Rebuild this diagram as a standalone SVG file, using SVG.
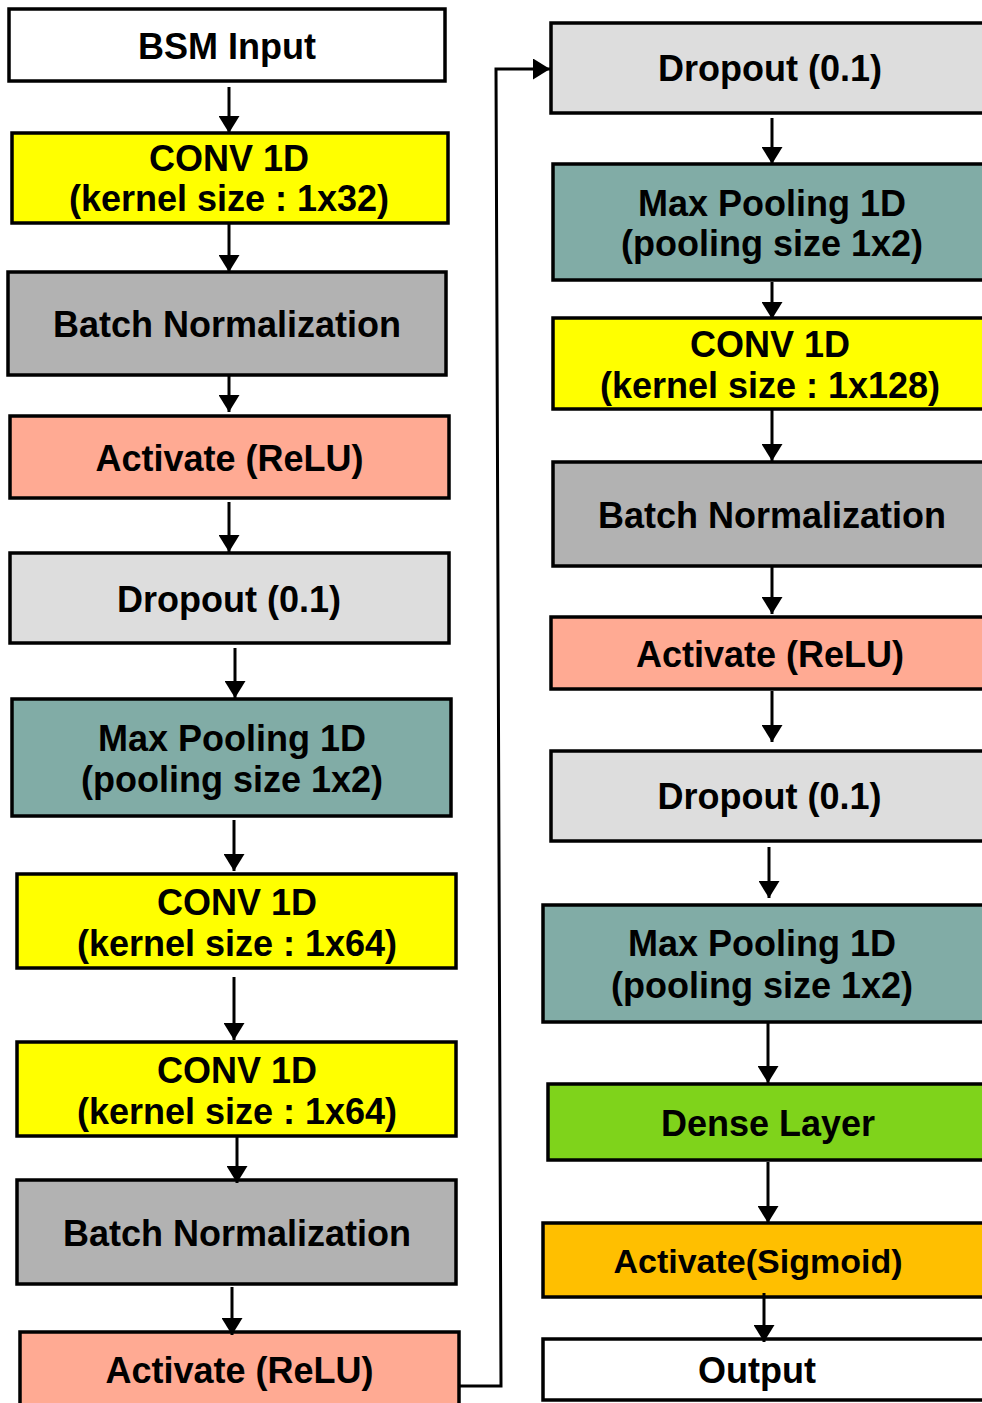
<svg xmlns="http://www.w3.org/2000/svg" width="982" height="1403" viewBox="0 0 982 1403">
  <style>
    .box { stroke: #000; stroke-width: 3.5; }
    .lbl { font-family: "Liberation Sans", Arial, sans-serif; font-weight: bold; font-size: 36px; text-anchor: middle; fill: #000; }
    .small { font-size: 34px; }
    .wire { stroke: #000; stroke-width: 3; fill: none; }
    .white { fill: #ffffff; }
    .conv { fill: #ffff00; }
    .bn { fill: #b2b2b2; }
    .relu { fill: #ffaa93; }
    .drop { fill: #dddddd; }
    .pool { fill: #81aca6; }
    .dense { fill: #7fd31b; }
    .sig { fill: #ffbf00; }
  </style>
  <defs>
    <marker id="arrow" markerUnits="userSpaceOnUse" viewBox="0 0 17 21" refX="17" refY="10.5" markerWidth="17" markerHeight="21" orient="auto">
      <path d="M0,0 L17,10.5 L0,21 Z" fill="#000"/>
    </marker>
  </defs>
  <rect width="982" height="1403" fill="#fff"/>

  <!-- left column -->
  <g id="bsm-input">
    <rect class="box white" x="9" y="9" width="436" height="72"/>
    <text class="lbl" x="227" y="59">BSM Input</text>
  </g>
  <g id="conv1d-32">
    <rect class="box conv" x="12" y="133" width="436" height="90"/>
    <text class="lbl" x="229" y="171">CONV 1D</text>
    <text class="lbl" x="229" y="211">(kernel size : 1x32)</text>
  </g>
  <g id="batchnorm-1">
    <rect class="box bn" x="8" y="272" width="438" height="103"/>
    <text class="lbl" x="227" y="337">Batch Normalization</text>
  </g>
  <g id="relu-1">
    <rect class="box relu" x="10" y="416" width="439" height="82"/>
    <text class="lbl" x="229.5" y="471">Activate (ReLU)</text>
  </g>
  <g id="dropout-1">
    <rect class="box drop" x="10" y="553" width="439" height="90"/>
    <text class="lbl" x="229" y="612">Dropout (0.1)</text>
  </g>
  <g id="maxpool-1">
    <rect class="box pool" x="12" y="699" width="439" height="117"/>
    <text class="lbl" x="232" y="751">Max Pooling 1D</text>
    <text class="lbl" x="232" y="792">(pooling size 1x2)</text>
  </g>
  <g id="conv1d-64a">
    <rect class="box conv" x="17" y="874" width="439" height="94"/>
    <text class="lbl" x="237" y="915">CONV 1D</text>
    <text class="lbl" x="237" y="956">(kernel size : 1x64)</text>
  </g>
  <g id="conv1d-64b">
    <rect class="box conv" x="17" y="1042" width="439" height="94"/>
    <text class="lbl" x="237" y="1083">CONV 1D</text>
    <text class="lbl" x="237" y="1124">(kernel size : 1x64)</text>
  </g>
  <g id="batchnorm-2">
    <rect class="box bn" x="17" y="1180" width="439" height="104"/>
    <text class="lbl" x="237" y="1246">Batch Normalization</text>
  </g>
  <g id="relu-2">
    <rect class="box relu" x="20" y="1332" width="439" height="90"/>
    <text class="lbl" x="239.5" y="1383">Activate (ReLU)</text>
  </g>

  <!-- right column -->
  <g id="dropout-2">
    <rect class="box drop" x="551" y="23" width="450" height="90"/>
    <text class="lbl" x="770" y="81">Dropout (0.1)</text>
  </g>
  <g id="maxpool-2">
    <rect class="box pool" x="553" y="164" width="450" height="116"/>
    <text class="lbl" x="772" y="216">Max Pooling 1D</text>
    <text class="lbl" x="772" y="256">(pooling size 1x2)</text>
  </g>
  <g id="conv1d-128">
    <rect class="box conv" x="553" y="318" width="450" height="91"/>
    <text class="lbl" x="770" y="357">CONV 1D</text>
    <text class="lbl" x="770" y="398">(kernel size : 1x128)</text>
  </g>
  <g id="batchnorm-3">
    <rect class="box bn" x="553" y="462" width="450" height="104"/>
    <text class="lbl" x="772" y="528">Batch Normalization</text>
  </g>
  <g id="relu-3">
    <rect class="box relu" x="551" y="617" width="450" height="72"/>
    <text class="lbl" x="770" y="667">Activate (ReLU)</text>
  </g>
  <g id="dropout-3">
    <rect class="box drop" x="551" y="751" width="450" height="90"/>
    <text class="lbl" x="769.5" y="809">Dropout (0.1)</text>
  </g>
  <g id="maxpool-3">
    <rect class="box pool" x="543" y="905" width="460" height="117"/>
    <text class="lbl" x="762" y="956">Max Pooling 1D</text>
    <text class="lbl" x="762" y="998">(pooling size 1x2)</text>
  </g>
  <g id="dense">
    <rect class="box dense" x="548" y="1084" width="455" height="76"/>
    <text class="lbl" x="768" y="1136">Dense Layer</text>
  </g>
  <g id="sigmoid">
    <rect class="box sig" x="543" y="1223" width="460" height="74"/>
    <text class="lbl small" x="758" y="1273">Activate(Sigmoid)</text>
  </g>
  <g id="output">
    <rect class="box white" x="543" y="1339" width="460" height="61"/>
    <text class="lbl" x="757" y="1383">Output</text>
  </g>

  <!-- connectors -->
  <g id="connectors">
    <line class="wire" x1="229" y1="87" x2="229" y2="133" marker-end="url(#arrow)"/>
    <line class="wire" x1="229" y1="223" x2="229" y2="272" marker-end="url(#arrow)"/>
    <line class="wire" x1="229" y1="375" x2="229" y2="412" marker-end="url(#arrow)"/>
    <line class="wire" x1="229" y1="502" x2="229" y2="552" marker-end="url(#arrow)"/>
    <line class="wire" x1="235" y1="648" x2="235" y2="698" marker-end="url(#arrow)"/>
    <line class="wire" x1="234" y1="820" x2="234" y2="871" marker-end="url(#arrow)"/>
    <line class="wire" x1="234" y1="977" x2="234" y2="1040" marker-end="url(#arrow)"/>
    <line class="wire" x1="237" y1="1136" x2="237" y2="1183" marker-end="url(#arrow)"/>
    <line class="wire" x1="232" y1="1287" x2="232" y2="1335" marker-end="url(#arrow)"/>
    <polyline class="wire" points="459,1386 501,1386 496,69 550,69" marker-end="url(#arrow)"/>
    <line class="wire" x1="772" y1="118" x2="772" y2="164" marker-end="url(#arrow)"/>
    <line class="wire" x1="772" y1="282" x2="772" y2="319" marker-end="url(#arrow)"/>
    <line class="wire" x1="772" y1="410" x2="772" y2="461" marker-end="url(#arrow)"/>
    <line class="wire" x1="772" y1="566" x2="772" y2="614" marker-end="url(#arrow)"/>
    <line class="wire" x1="772" y1="691" x2="772" y2="742" marker-end="url(#arrow)"/>
    <line class="wire" x1="769" y1="847" x2="769" y2="898" marker-end="url(#arrow)"/>
    <line class="wire" x1="768" y1="1022" x2="768" y2="1083" marker-end="url(#arrow)"/>
    <line class="wire" x1="768" y1="1162" x2="768" y2="1223" marker-end="url(#arrow)"/>
    <line class="wire" x1="764" y1="1293" x2="764" y2="1342" marker-end="url(#arrow)"/>
  </g>
</svg>
